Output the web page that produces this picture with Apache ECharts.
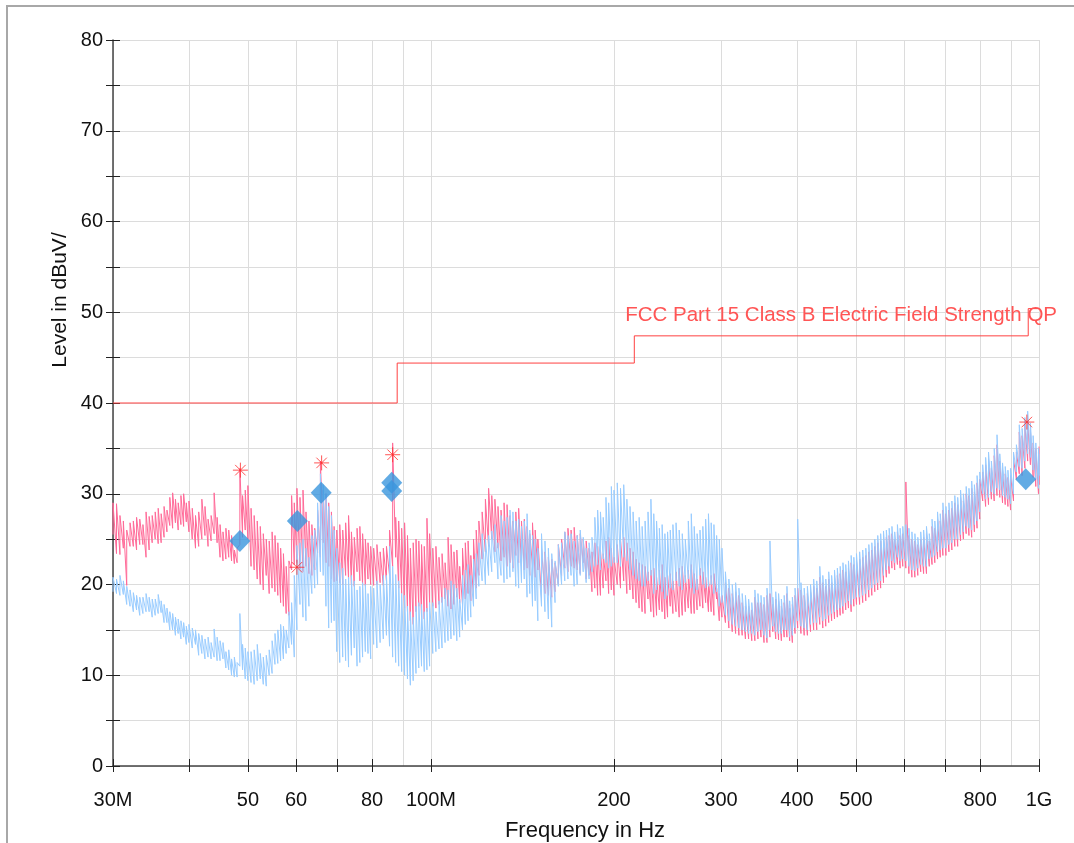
<!DOCTYPE html>
<html>
<head>
<meta charset="utf-8">
<title>Radiated emission scan</title>
<script src="https://cdn.jsdelivr.net/npm/echarts@6/dist/echarts.min.js"></script>
<style>
  html, body { margin: 0; padding: 0; background: #fff; }
  #chart { width: 1074px; height: 843px; }
</style>
</head>
<body>
<div id="chart"></div>
<script>
// frequency points of the scan, MHz
const freqs = [
  30, 30.4, 30.8, 31.2, 31.6, 32, 32.4, 32.8, 33.2, 33.6, 34, 34.4, 34.8, 35.2, 35.6, 36, 36.4, 36.8, 37.2, 37.6, 38, 38.4, 38.8, 39.2, 39.6, 40,
  40.5, 41, 41.5, 42, 42.5, 43, 43.5, 44, 44.5, 45, 45.5, 46, 46.5, 47, 47.5, 48, 48.5, 49, 49.5, 50,
  50.6, 51.2, 51.8, 52.4, 53, 53.6, 54.2, 54.8, 55.4, 56, 56.6, 57.2, 57.8, 58.4, 59, 59.6, 60.2,
  60.9, 61.6, 62.3, 63, 63.7, 64.4, 65.1, 65.8, 66.5, 67.2, 67.9, 68.6, 69.3, 70,
  70.8, 71.6, 72.4, 73.2, 74, 74.8, 75.6, 76.4, 77.2, 78, 78.8, 79.6,
  80.5, 81.5, 82.5, 83.5, 84.5, 85.5, 86.5, 87.5, 88.5, 89.5, 90.5, 91.5, 92.5, 93.5, 94.5, 95.5, 96.5, 97.5, 98.5, 99.5,
  100.7, 101.9, 103.1, 104.3, 105.5, 106.7, 107.9, 109.1, 110.3, 111.5, 112.7, 113.9, 115.1, 116.3, 117.5, 118.7, 119.9,
  121.4, 122.9, 124.4, 125.9, 127.4, 128.9, 130.4, 131.9, 133.4, 134.9, 136.4, 137.9, 139.4, 140.9, 142.4, 143.9, 145.4, 146.9, 148.4, 149.9,
  152, 154, 156, 158, 160, 162, 164, 166, 168, 170, 172, 174, 176, 178, 180, 182, 184, 186, 188, 190, 192, 194, 196, 198, 200,
  202.5, 205, 207.5, 210, 212.5, 215, 217.5, 220, 222.5, 225, 227.5, 230, 232.5, 235, 237.5, 240, 242.5, 245, 247.5, 250,
  253, 256, 259, 262, 265, 268, 271, 274, 277, 280, 283, 286, 289, 292, 295, 298, 301,
  305, 309, 313, 317, 321, 325, 329, 333, 337, 341, 345, 349, 353, 357, 361, 365, 369, 373, 377, 381, 385, 389, 393, 397, 401,
  406, 411, 416, 421, 426, 431, 436, 441, 446, 451, 456, 461, 466, 471, 476, 481, 486, 491, 496, 501,
  507, 513, 519, 525, 531, 537, 543, 549, 555, 561, 567, 573, 579, 585, 591, 597,
  604, 611, 618, 625, 632, 639, 646, 653, 660, 667, 674, 681, 688, 695,
  703, 711, 719, 727, 735, 743, 751, 759, 767, 775, 783, 791, 799,
  808, 817, 826, 835, 844, 853, 862, 871, 880, 889, 898,
  908, 918, 928, 938, 948, 958, 968, 978, 988, 998, 1000
]

// peak trace (pink), dBuV/m - first swing at each frequency
const peakA = [
  25.5, 28.9, 23.3, 27.0, 19.9, 26.8, 24.2, 27.4, 24.4, 26.6, 23.0, 27.5, 24.6, 28.0, 24.5, 27.8, 25.2, 28.2, 26.5, 30.1, 26.8, 29.0, 26.6, 30.0, 26.9, 29.2,
  25.0, 27.6, 24.2, 29.4, 25.4, 27.2, 24.8, 30.1, 24.6, 26.6, 22.6, 26.2, 23.0, 25.4, 22.3, 24.0, 32.8, 25.2, 26.0, 30.9,
  28.4, 21.6, 27.0, 20.0, 25.6, 21.0, 24.8, 19.6, 25.4, 18.8, 24.0, 17.6, 22.0, 16.6, 29.8, 22.2, 30.6,
  21.7, 30.4, 22.0, 27.0, 21.0, 26.2, 23.5, 33.6, 24.6, 30.0, 22.0, 28.0, 20.3, 26.0,
  20.2, 26.0, 21.0, 27.6, 20.0, 25.2, 21.4, 26.4, 19.9, 25.0, 20.6, 24.2,
  24.0, 20.0, 23.6, 19.9, 24.2, 21.0, 35.6, 23.0, 27.0, 19.0, 26.8, 17.0, 24.0, 15.6, 25.0, 17.6, 24.4, 16.2, 27.3, 18.0,
  24.0, 17.4, 23.0, 18.0, 22.4, 25.2, 17.3, 23.6, 18.6, 22.0, 17.8, 24.6, 19.0, 23.2, 18.6, 26.0, 21.0,
  28.0, 23.6, 30.6, 25.0, 29.4, 24.0, 28.2, 23.0, 28.8, 22.4, 27.0, 23.2, 28.4, 22.0, 27.2, 21.8, 25.6, 22.0, 26.0, 21.6,
  24.0, 19.0, 23.0, 18.6, 22.4, 20.0, 25.0, 21.8, 26.2, 22.0, 26.3, 21.6, 25.6, 22.4, 24.8, 21.0, 23.6, 19.6, 24.2, 18.8, 23.4, 20.4, 25.2, 19.4, 23.0,
  20.0, 25.0, 20.4, 24.6, 19.4, 23.6, 18.0, 22.4, 17.0, 22.0, 18.4, 21.6, 16.4, 20.8, 17.2, 22.2, 16.2, 21.0, 17.6, 20.4,
  17.0, 21.8, 16.6, 21.0, 17.4, 22.2, 16.8, 20.6, 17.6, 21.4, 18.0, 20.6, 17.0, 21.2, 18.4, 19.0, 16.4,
  20.2, 15.2, 19.0, 14.6, 18.8, 14.4, 17.6, 14.0, 17.2, 13.8, 18.0, 14.2, 17.8, 13.6, 19.0, 14.8, 18.4, 13.9, 17.6, 14.2, 19.0, 13.8, 17.8, 14.6, 19.6,
  14.6, 18.8, 14.4, 19.2, 15.0, 19.6, 20.8, 15.2, 19.8, 15.8, 20.2, 16.2, 21.0, 16.6, 21.6, 17.2, 21.8, 17.0, 22.2, 17.8,
  22.8, 18.0, 23.2, 18.6, 23.8, 19.2, 24.6, 19.6, 25.0, 20.8, 25.4, 21.8, 25.0, 22.2, 25.4, 22.0,
  31.3, 21.2, 25.0, 20.8, 24.4, 21.4, 25.2, 21.2, 24.8, 22.2, 26.2, 22.8, 27.0, 23.2,
  27.8, 23.6, 28.4, 24.2, 28.8, 24.8, 29.2, 25.6, 29.8, 25.2, 30.2, 26.2, 31.6,
  29.2, 33.2, 28.8, 32.8, 29.2, 35.4, 29.6, 32.6, 28.8, 31.8, 28.2,
  29.2, 34.6, 32.2, 36.4, 32.8, 38.0, 33.2, 35.6, 30.8, 34.6, 31.0
]

// peak trace (pink) - opposite swing at each frequency
const peakB = [
  29.0, 23.4, 27.6, 24.0, 26.0, 24.2, 27.0, 23.8, 27.2, 24.4, 28.0, 23.8, 27.6, 25.0, 28.4, 24.6, 28.6, 25.8, 29.6, 26.2, 29.4, 26.0, 29.8, 26.4, 29.0, 25.8,
  28.4, 24.0, 28.0, 25.0, 28.6, 24.2, 27.6, 25.6, 27.4, 23.0, 25.8, 22.8, 26.0, 22.6, 23.8, 22.4, 24.4, 29.8, 30.4, 25.0,
  22.0, 27.6, 20.6, 26.4, 19.4, 25.0, 19.0, 25.8, 19.2, 24.6, 18.0, 23.4, 16.8, 22.6, 21.6, 29.0, 22.4,
  29.6, 21.4, 28.0, 21.2, 26.6, 21.6, 28.2, 23.0, 30.4, 22.4, 29.0, 20.6, 26.4, 20.4,
  26.6, 20.0, 26.8, 20.6, 25.8, 19.8, 26.2, 20.4, 25.6, 19.9, 24.6, 20.0,
  19.9, 24.4, 20.2, 24.0, 20.4, 26.0, 22.0, 27.4, 19.6, 26.2, 17.4, 25.4, 16.0, 24.6, 17.0, 24.8, 16.4, 24.2, 17.0, 25.6,
  17.6, 24.2, 17.8, 23.4, 18.4, 17.6, 24.4, 17.8, 23.8, 18.0, 24.0, 18.4, 24.8, 18.2, 25.0, 19.6, 27.0,
  22.8, 29.4, 24.2, 29.8, 23.6, 28.6, 22.6, 29.0, 22.0, 27.6, 21.8, 28.0, 22.4, 27.0, 21.6, 26.4, 21.0, 26.8, 20.8, 25.0,
  18.6, 23.6, 18.8, 22.8, 19.2, 24.4, 21.0, 25.8, 21.4, 26.0, 21.8, 25.4, 21.2, 25.0, 20.6, 24.0, 19.2, 24.6, 18.8, 23.8, 19.6, 24.8, 19.0, 24.0, 18.8,
  24.4, 19.6, 25.2, 19.0, 24.0, 18.4, 22.8, 17.4, 22.2, 16.8, 21.4, 17.0, 21.8, 16.6, 21.6, 17.0, 20.8, 16.4, 21.2, 16.8,
  21.4, 16.4, 22.0, 17.0, 21.6, 16.8, 21.2, 17.2, 21.8, 17.4, 20.8, 17.0, 21.0, 16.6, 19.6, 16.0, 18.8,
  15.8, 19.6, 14.8, 19.2, 14.4, 18.0, 14.0, 17.6, 13.8, 18.6, 14.0, 18.0, 13.6, 18.8, 14.2, 17.8, 14.0, 18.2, 13.8, 18.0, 14.2, 17.4, 13.6, 18.8, 15.2,
  19.4, 14.4, 19.0, 14.8, 19.8, 15.0, 15.6, 20.2, 15.4, 20.6, 16.0, 20.8, 16.4, 21.2, 16.8, 21.4, 17.4, 22.4, 17.6, 22.6,
  17.8, 23.0, 18.2, 23.6, 18.8, 24.2, 19.4, 24.8, 20.2, 25.2, 21.2, 25.6, 21.6, 25.8, 21.8, 25.6,
  21.8, 25.4, 20.8, 24.8, 21.0, 25.0, 21.2, 25.6, 22.0, 26.4, 22.4, 27.2, 23.0, 28.2,
  23.2, 28.2, 23.8, 29.0, 24.2, 29.6, 25.0, 30.0, 25.4, 30.6, 25.8, 31.2, 27.2,
  32.4, 28.6, 33.8, 29.4, 34.2, 29.8, 33.6, 29.0, 32.2, 28.6, 32.0,
  33.8, 31.6, 36.8, 32.0, 37.6, 33.6, 37.0, 31.8, 35.0, 30.0, 35.2
]

// second trace (light blue), dBuV/m - first swing
const avgA = [
  20.8, 19.0, 21.0, 18.9, 19.8, 17.6, 19.1, 17.2, 18.6, 16.8, 19.0, 17.0, 18.4, 16.6, 18.9, 16.9, 17.8, 15.8, 17.0, 15.0, 16.4, 14.6, 16.0, 14.2, 15.4, 13.6,
  15.2, 13.4, 14.6, 12.4, 14.0, 12.0, 13.6, 15.1, 11.6, 13.8, 11.8, 12.6, 10.6, 11.8, 9.8, 11.4, 16.8, 10.6, 13.0, 9.4,
  12.6, 9.0, 13.4, 9.6, 12.0, 8.8, 12.8, 10.2, 14.6, 11.3, 15.6, 11.8, 15.0, 13.0, 18.0, 12.0, 24.3,
  17.8, 25.0, 16.0, 23.0, 19.0, 26.0, 20.0, 32.2, 21.0, 30.0, 15.2, 27.6, 16.0, 24.0,
  22.4, 12.0, 20.6, 10.9, 21.0, 13.0, 19.4, 11.4, 20.2, 12.6, 19.0, 11.8,
  19.6, 13.0, 20.0, 14.0, 21.0, 24.2, 12.0, 21.1, 11.0, 19.0, 10.0, 17.6, 8.9, 16.4, 10.2, 18.0, 11.0, 17.0, 10.6, 18.0,
  12.4, 17.0, 12.9, 18.6, 13.6, 19.4, 14.0, 20.0, 13.8, 18.4, 15.0, 21.6, 16.0, 21.0, 17.6, 23.4, 19.8,
  20.4, 25.0, 21.0, 25.9, 22.4, 24.6, 21.0, 27.0, 20.6, 28.2, 21.4, 27.0, 19.6, 26.4, 20.6, 27.8, 19.0, 25.4, 18.2, 24.0,
  25.6, 17.0, 24.0, 15.3, 22.6, 19.8, 24.6, 20.4, 25.4, 21.0, 24.8, 20.0, 26.0, 21.4, 24.0, 20.6, 25.2, 22.0, 28.2, 21.6, 27.4, 22.4, 29.0, 22.0, 30.4,
  31.2, 22.0, 31.0, 22.6, 28.6, 21.0, 27.0, 20.4, 26.4, 19.8, 28.0, 29.4, 19.0, 27.0, 20.0, 26.6, 18.4, 25.8, 19.6, 26.6,
  20.4, 26.0, 19.4, 25.0, 20.6, 27.8, 19.0, 25.6, 21.0, 26.4, 19.6, 27.8, 20.0, 26.6, 19.2, 25.0, 18.0,
  21.4, 16.0, 20.0, 15.4, 19.6, 15.0, 18.8, 14.6, 18.0, 14.4, 19.0, 15.0, 18.6, 14.1, 24.8, 15.4, 19.2, 14.6, 18.4, 15.0, 19.8, 14.2, 18.6, 15.2, 27.2,
  15.4, 19.6, 15.0, 20.0, 15.8, 20.4, 22.0, 16.0, 20.6, 16.6, 21.0, 17.0, 21.8, 17.4, 22.4, 18.0, 22.6, 17.8, 23.0, 18.6,
  23.6, 18.8, 24.0, 19.4, 24.6, 20.0, 25.4, 20.4, 25.9, 21.6, 26.2, 22.6, 25.8, 23.0, 26.2, 22.8,
  26.6, 22.0, 25.8, 21.5, 25.2, 22.2, 26.0, 22.0, 25.6, 23.0, 27.0, 23.6, 27.8, 24.0,
  28.6, 24.4, 29.2, 25.0, 29.6, 25.5, 30.0, 26.4, 30.6, 26.0, 31.0, 27.0, 32.4,
  30.0, 34.0, 29.6, 33.6, 30.0, 36.5, 30.4, 33.4, 29.6, 32.6, 28.9,
  30.0, 35.4, 33.0, 37.2, 33.6, 39.1, 34.0, 36.4, 31.6, 35.0, 32.0
]

// second trace (light blue) - opposite swing
const avgB = [
  19.2, 20.6, 18.8, 20.4, 17.8, 19.4, 17.0, 18.8, 16.6, 18.6, 17.0, 18.6, 16.4, 18.4, 16.8, 18.2, 15.8, 17.4, 15.0, 16.8, 14.4, 16.2, 14.0, 15.8, 13.4, 15.6,
  13.0, 15.0, 12.2, 14.4, 11.8, 14.2, 11.8, 12.0, 14.2, 11.6, 13.6, 10.8, 12.8, 10.0, 12.0, 9.8, 11.0, 13.4, 9.6, 12.6,
  9.2, 12.8, 9.4, 12.4, 9.0, 12.2, 10.0, 13.8, 11.2, 15.0, 11.6, 15.4, 12.4, 17.0, 13.4, 21.0, 15.0,
  24.6, 16.4, 24.0, 17.6, 25.4, 19.6, 29.0, 21.4, 31.0, 17.6, 28.6, 15.8, 26.0, 12.6,
  11.4, 21.8, 11.6, 20.8, 12.2, 20.4, 11.0, 19.8, 12.0, 20.0, 12.4, 19.8,
  13.4, 20.4, 13.6, 21.0, 14.4, 13.2, 22.0, 11.4, 20.4, 10.4, 18.8, 9.6, 17.0, 9.4, 17.6, 10.8, 17.8, 10.4, 17.4, 11.0,
  18.0, 12.6, 18.2, 13.0, 19.6, 13.8, 20.4, 14.4, 19.6, 14.2, 21.0, 15.6, 22.2, 16.4, 22.8, 18.4, 24.6,
  25.6, 20.0, 25.4, 21.4, 26.6, 20.6, 27.6, 20.2, 27.4, 20.8, 28.0, 19.8, 27.2, 20.2, 27.0, 18.6, 26.0, 17.6, 25.0, 16.0,
  17.6, 24.8, 16.2, 23.4, 18.0, 24.4, 20.0, 25.8, 20.6, 25.6, 19.8, 25.4, 21.0, 25.2, 20.2, 24.6, 21.4, 27.4, 22.2, 28.0, 22.8, 29.6, 21.8, 30.8, 22.4,
  22.4, 30.6, 23.0, 29.4, 21.6, 28.0, 20.6, 27.4, 19.8, 27.0, 20.4, 21.0, 27.8, 19.4, 26.2, 19.2, 25.6, 18.8, 26.0, 19.4,
  26.8, 19.8, 25.6, 20.2, 27.0, 19.6, 26.4, 19.4, 26.0, 20.0, 27.2, 19.8, 26.8, 19.0, 25.4, 17.6, 24.0,
  16.6, 20.6, 15.6, 20.2, 15.2, 19.0, 14.8, 18.4, 14.6, 19.4, 14.8, 18.8, 14.4, 19.6, 15.0, 18.6, 14.8, 19.0, 14.6, 18.8, 15.0, 18.2, 14.4, 19.6, 16.0,
  20.2, 15.2, 19.8, 15.6, 20.6, 15.8, 16.4, 21.0, 16.2, 21.4, 16.8, 21.6, 17.2, 22.0, 17.6, 22.2, 18.2, 23.2, 18.4, 23.4,
  18.6, 23.8, 19.0, 24.4, 19.6, 25.0, 20.2, 25.6, 21.0, 26.0, 22.0, 26.4, 22.4, 26.6, 22.6, 26.4,
  22.6, 26.2, 21.6, 25.6, 21.8, 25.8, 22.0, 26.4, 22.8, 27.2, 23.2, 28.0, 23.8, 29.0,
  24.0, 29.0, 24.6, 29.8, 25.0, 30.4, 25.8, 30.8, 26.2, 31.4, 26.6, 32.0, 28.0,
  33.2, 29.4, 34.6, 30.2, 35.0, 30.6, 34.4, 29.8, 33.0, 29.4, 32.8,
  34.6, 32.4, 37.6, 32.8, 38.4, 34.4, 37.8, 32.6, 35.6, 30.6, 34.4
]

// limit line corners (MHz, dBuV/m)
const limitFreqs = [30, 88, 88, 216, 216, 960, 960, 1000]
const limitLevels = [40, 40, 44.4, 44.4, 47.4, 47.4, 50.4, 50.4]
const limitName = 'FCC Part 15 Class B Electric Field Strength QP'

// final measurement points
const qpFreqs = [48.5, 60.3, 66.0, 86.2, 86.2, 951]
const qpLevels = [24.8, 27.0, 30.1, 31.2, 30.3, 31.6]
const pkFreqs = [48.6, 60.2, 66.1, 86.5, 955]
const pkLevels = [32.6, 21.9, 33.4, 34.3, 37.9]

// axis ticks / labels (MHz)
const tickFreqs = [30, 40, 50, 60, 70, 80, 100, 200, 300, 400, 500, 600, 700, 800, 1000]
const gridFreqs = [30, 40, 50, 60, 70, 80, 90, 100, 200, 300, 400, 500, 600, 700, 800, 900, 1000]
const labelFreqs = [30, 50, 60, 80, 100, 200, 300, 400, 500, 800, 1000]

const lg = v => Math.log10(v)
const pairs = (xs, ys) => xs.map((f, i) => [lg(f), ys[i]])
// both swings at every frequency, low then high, so the trace rises in a
// vertical stroke and falls diagonally to the next frequency
const swings = (xs, a, b) => {
  const out = []
  xs.forEach((f, i) => {
    out.push([lg(f), Math.min(a[i], b[i])])
    out.push([lg(f), Math.max(a[i], b[i])])
  })
  return out
}

function freqLabel (v) {
  const f = Math.round(Math.pow(10, v))
  if (f === 30) return '30M'
  if (f === 100) return '100M'
  if (f === 1000) return '1G'
  return String(f)
}

const font = 'Liberation Sans, Arial, sans-serif'
const xMin = lg(30)
const xMax = lg(1000)

const chart = echarts.init(document.getElementById('chart'))
chart.setOption({
  animation: false,
  backgroundColor: '#fff',
  grid: { left: 113, right: 35, top: 40, bottom: 77 },
  xAxis: [
    {
      type: 'value', min: xMin, max: xMax,
      axisLine: { show: true, lineStyle: { color: '#444', width: 1.5 } },
      axisTick: { show: true, length: 6, customValues: tickFreqs.map(lg), lineStyle: { color: '#222' } },
      axisLabel: {
        customValues: labelFreqs.map(lg), formatter: freqLabel, margin: 24,
        color: '#111', fontSize: 20, fontFamily: font
      },
      splitLine: { show: false }
    },
    {
      // inner half of the crossing ticks
      type: 'value', min: xMin, max: xMax, position: 'bottom',
      axisLine: { show: false },
      axisTick: { show: true, inside: true, length: 7, customValues: tickFreqs.map(lg), lineStyle: { color: '#222' } },
      axisLabel: { show: false },
      splitLine: { show: false }
    },
    {
      // vertical grid
      type: 'value', min: xMin, max: xMax, position: 'top',
      axisLine: { show: false },
      axisTick: { show: false, customValues: gridFreqs.map(lg) },
      axisLabel: { show: false },
      splitLine: { show: true, lineStyle: { color: '#dcdcdc', width: 1 } }
    }
  ],
  yAxis: [
    {
      type: 'value', min: 0, max: 80, interval: 5,
      axisLine: { show: true, lineStyle: { color: '#444', width: 1.5 } },
      axisTick: { show: true, length: 7, lineStyle: { color: '#222' } },
      axisLabel: {
        formatter: v => (v % 10 === 0 ? String(v) : ''),
        margin: 10, color: '#111', fontSize: 20, fontFamily: font
      },
      splitLine: { show: true, lineStyle: { color: '#dcdcdc', width: 1 } }
    },
    {
      type: 'value', min: 0, max: 80, interval: 5, position: 'left',
      axisLine: { show: false },
      axisTick: { show: true, inside: true, length: 7, lineStyle: { color: '#222' } },
      axisLabel: { show: false },
      splitLine: { show: false }
    }
  ],
  graphic: [
    {
      type: 'rect', silent: true, z: 0,
      shape: { x: 7, y: 6, width: 1200, height: 1000 },
      style: { fill: 'none', stroke: '#a8a8a8', lineWidth: 2 }
    },
    {
      type: 'text', x: 60, y: 300, rotation: Math.PI / 2,
      style: { text: 'Level in dBuV/', fill: '#111', font: '21px ' + font, align: 'center', verticalAlign: 'middle' }
    },
    {
      type: 'text', x: 585, y: 831,
      style: { text: 'Frequency in Hz', fill: '#111', font: '22px ' + font, align: 'center', verticalAlign: 'middle' }
    },
    {
      type: 'text', x: 1057, y: 315, z: 10,
      style: { text: limitName, fill: '#ff5555', font: '20.5px ' + font, align: 'right', verticalAlign: 'middle' }
    }
  ],
  series: [
    {
      name: 'Peak', type: 'line', data: swings(freqs, peakA, peakB),
      showSymbol: false, lineStyle: { color: '#ff6a98', width: 1 }, z: 2
    },
    {
      name: 'Average', type: 'line', data: swings(freqs, avgA, avgB),
      showSymbol: false, lineStyle: { color: '#99ccff', width: 1 }, z: 3
    },
    {
      name: limitName, type: 'line', data: pairs(limitFreqs, limitLevels),
      showSymbol: false, lineStyle: { color: '#ff4040', width: 1 }, z: 4
    },
    {
      name: 'QP', type: 'scatter', data: pairs(qpFreqs, qpLevels),
      symbol: 'diamond', symbolSize: [21, 22], itemStyle: { color: '#3a96dd' }, z: 5
    },
    {
      name: 'Peak markers', type: 'scatter', data: pairs(pkFreqs, pkLevels),
      symbol: 'path://M10,0L10,20M0,10L20,10M3,3L17,17M3,17L17,3', symbolSize: 15,
      itemStyle: { color: 'rgba(0,0,0,0)', borderColor: '#ff2a2a', borderWidth: 1 }, z: 6
    }
  ]
})
</script>
</body>
</html>
